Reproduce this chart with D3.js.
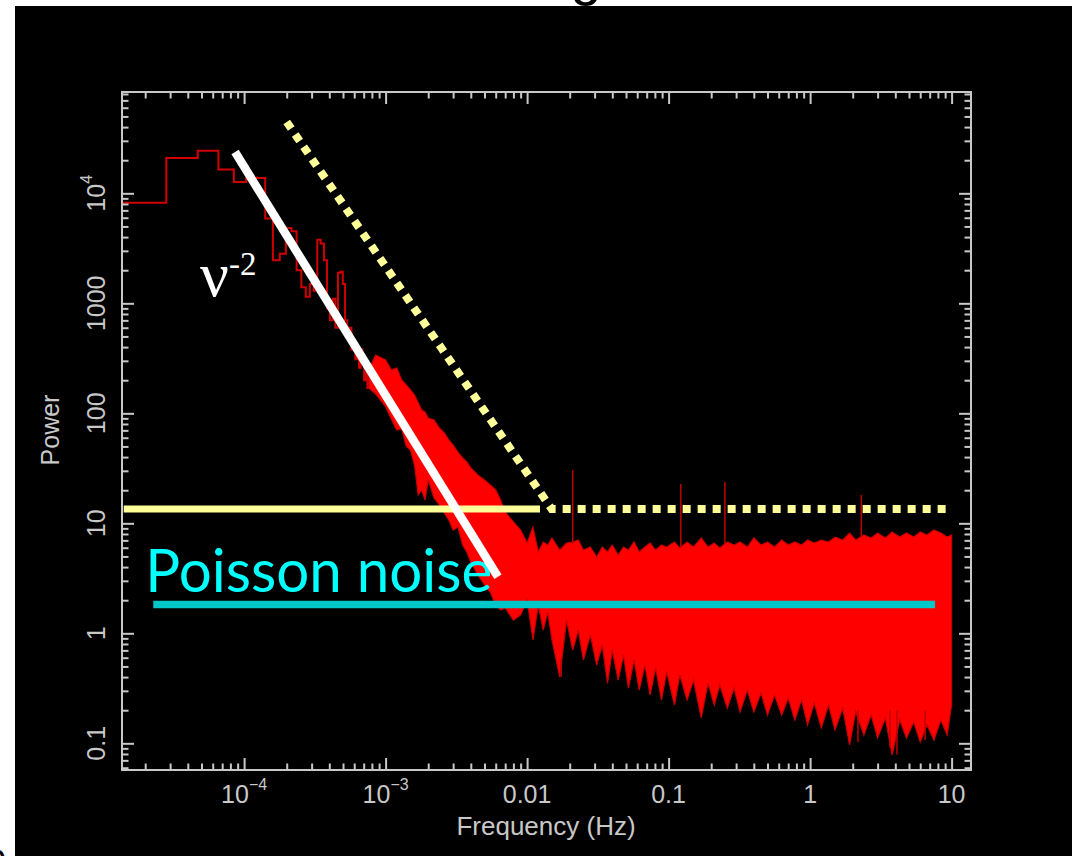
<!DOCTYPE html>
<html>
<head>
<meta charset="utf-8">
<script src="https://cdnjs.cloudflare.com/ajax/libs/d3/7.8.5/d3.min.js"></script>
<style>
	html, body { margin: 0; padding: 0; background: #fff; }
	svg { display: block; }
</style>
</head>
<body>
<div id="chart"></div>
<script>
// power spectrum values
const binWidth = 1.88e-5; // Hz, resolution of the low-frequency histogram
const lowFreqPower = [8200, 21000, 24400, 16500, 12700, 13900, 13800, 5900, 2460, 2830,
	4840, 4510, 2000, 1400, 1150, 1500, 1300, 3790, 3490, 2460,
	900, 700, 1100, 600, 1900, 1940, 1500, 700, 500, 600,
	380, 420, 310, 350, 260, 380, 300, 200, 240, 170];

// dense part of the spectrum: upper / lower envelope of the noise
const bandFreq = [7.6e-4, 8.5e-4, 1.0e-3, 1.1e-3, 1.2e-3, 1.3e-3, 1.4e-3, 1.5e-3, 1.6e-3, 1.7e-3,
	1.8e-3, 1.9e-3, 2.0e-3, 2.2e-3, 2.4e-3, 2.6e-3, 2.8e-3, 3.0e-3, 3.25e-3, 3.5e-3,
	3.75e-3, 4.0e-3, 4.5e-3, 5.0e-3, 5.5e-3, 6.0e-3, 6.5e-3, 7.0e-3, 8.0e-3, 9.0e-3,
	0.010, 0.011, 0.012, 0.013, 0.014, 0.015, 0.017, 0.019, 0.021, 0.023,
	0.025, 0.028, 0.031, 0.034, 0.037, 0.040, 0.044, 0.048, 0.052, 0.057,
	0.062, 0.068, 0.074, 0.081, 0.089, 0.097, 0.11, 0.12, 0.135, 0.15,
	0.17, 0.19, 0.21, 0.23, 0.26, 0.29, 0.32, 0.36, 0.40, 0.45,
	0.50, 0.56, 0.63, 0.70, 0.78, 0.87, 0.96, 1.07, 1.2, 1.35,
	1.5, 1.7, 1.9, 2.1, 2.4, 2.7, 3.0, 3.4, 3.8, 4.3,
	4.8, 5.4, 6.0, 6.7, 7.5, 8.4, 9.3, 10.0];
const bandHigh = [248, 339, 305, 248, 258, 201, 181, 163, 147, 125,
	107, 103, 90.6, 86.9, 73.5, 66.5, 57.2, 51.5, 44.1, 39.3,
	36.1, 31.9, 27.4, 24.8, 22.3, 20.1, 16.3, 12.7, 10.3, 8.69,
	6.62, 9.25, 5.49, 6.76, 6.35, 7.35, 5.72, 6.62, 6.76, 7.05,
	5.72, 6.09, 4.94, 6.09, 5.49, 6.35, 5.15, 6.09, 5.72, 6.76,
	5.49, 6.09, 6.62, 5.72, 6.35, 6.09, 6.76, 5.96, 6.76, 6.09,
	7.35, 6.09, 6.62, 5.96, 6.76, 6.35, 6.76, 6.09, 7.35, 6.35,
	6.76, 6.09, 7.05, 6.35, 6.76, 6.35, 7.05, 6.62, 7.05, 6.76,
	7.50, 7.05, 8.16, 7.05, 7.83, 7.35, 8.16, 7.35, 8.34, 7.50,
	8.16, 7.50, 8.34, 7.83, 8.69, 8.16, 7.50, 7.83];
const bandLow = [170, 150, 115, 88, 70.5, 72, 50, 46.4, 33.9, 18.1,
	20.1, 16.3, 24.8, 17.0, 14.7, 12.4, 10.7, 8.69, 9.25, 6.35,
	5.49, 4.42, 3.39, 2.75, 2.36, 1.81, 1.63, 1.70, 1.32, 1.47,
	2.01, 0.869, 1.81, 1.07, 1.56, 0.869, 0.401, 1.32, 0.705, 1.07,
	0.572, 0.966, 0.515, 0.783, 0.353, 0.705, 0.376, 0.635, 0.318, 0.572,
	0.305, 0.515, 0.275, 0.484, 0.248, 0.445, 0.223, 0.418, 0.248, 0.376,
	0.170, 0.353, 0.223, 0.339, 0.209, 0.318, 0.193, 0.305, 0.193, 0.286,
	0.181, 0.275, 0.181, 0.258, 0.163, 0.248, 0.147, 0.233, 0.138, 0.223,
	0.132, 0.209, 0.0966, 0.193, 0.119, 0.181, 0.112, 0.170, 0.0783, 0.163,
	0.112, 0.156, 0.103, 0.147, 0.107, 0.163, 0.119, 0.223];

// single spikes sticking out of the noise band
const spikeFreq = [0.021, 0.122, 0.25, 2.3, 0.0174, 2.18, 3.67, 4.11, 6.5];
const spikeFrom = [6.5, 6.0, 6.5, 7.5, 0.6, 0.2, 0.2, 0.2, 0.2];
const spikeTo = [30.5, 22.8, 23.7, 18.1, 0.40, 0.103, 0.091, 0.079, 0.107];

// overlays drawn on the spectrum
const nuLineFreq = [8.63e-5, 6.22e-3];
const nuLinePower = [23700, 3.27];
const dottedFreq = [2.0e-4, 0.0149, 9.9];
const dottedPower = [44500, 13.5, 13.5];
const solidYellowFreq = [1.41e-5, 0.01233];
const solidYellowPower = [13.5, 13.5];
const poissonFreq = [2.28e-5, 7.64];
const poissonPower = [1.83, 1.83];

// axis ticks and labels
const xTickValues = [1e-4, 1e-3, 1e-2, 1e-1, 1, 10];
const xTickLabels = [["10", "\u22124"], ["10", "\u22123"], ["0.01"], ["0.1"], ["1"], ["10"]];
const yTickValues = [0.1, 1, 10, 100, 1000, 1e4];
const yTickLabels = [["0.1"], ["1"], ["10"], ["100"], ["1000"], ["10", "4"]];

document.addEventListener("DOMContentLoaded", function () {
	builder();
});

function builder() {
	const w = 1072;
	const h = 856;
	const left = 122, right = 971, top = 92, bottom = 770;
	const axisColor = "#c8c8c8";
	const font = "'Liberation Sans', Arial, sans-serif";

	const svg = d3.select("#chart")
		.append("svg")
		.attr("width", w)
		.attr("height", h);

	svg.append("rect")
		.attr("x", 15).attr("y", 6)
		.attr("width", w - 15).attr("height", h - 6)
		.attr("fill", "#000");

	// bits of cut-off text from the page around the figure
	svg.append("text")
		.attr("x", 586).attr("y", -6)
		.attr("text-anchor", "middle")
		.attr("font-family", font).attr("font-size", 56)
		.attr("fill", "#000")
		.text("g");
	svg.append("text")
		.attr("x", -14).attr("y", 870)
		.attr("font-family", font).attr("font-size", 36)
		.attr("fill", "#000")
		.text("b");

	const x = d3.scaleLog().domain([1.371e-5, 13.71]).range([left, right]);
	const y = d3.scaleLog().domain([0.0572, 83400]).range([bottom, top]);

	svg.append("clipPath").attr("id", "plot-clip")
		.append("rect")
		.attr("x", left).attr("y", top)
		.attr("width", right - left).attr("height", bottom - top);

	const data = svg.append("g").attr("clip-path", "url(#plot-clip)");

	// low frequency part as a histogram
	const steps = lowFreqPower.map((p, i) => [(i + 0.5) * binWidth, p]);
	steps.push([(lowFreqPower.length + 0.5) * binWidth, lowFreqPower[lowFreqPower.length - 1]]);
	data.append("path")
		.attr("d", d3.line().x(d => x(d[0])).y(d => y(d[1])).curve(d3.curveStepAfter)(steps))
		.attr("fill", "none")
		.attr("stroke", "#d00000")
		.attr("stroke-width", 2);

	// noise band
	const band = bandFreq.map((f, i) => ({ f: f, hi: bandHigh[i], lo: bandLow[i] }));
	data.append("path")
		.attr("d", d3.area().x(d => x(d.f)).y0(d => y(d.lo)).y1(d => y(d.hi))(band))
		.attr("fill", "#ff0000")
		.attr("stroke", "#c80000")
		.attr("stroke-width", 1.2);

	data.selectAll("line.spike")
		.data(spikeFreq)
		.enter()
		.append("line")
		.attr("class", "spike")
		.attr("x1", d => x(d)).attr("x2", d => x(d))
		.attr("y1", (d, i) => y(spikeFrom[i]))
		.attr("y2", (d, i) => y(spikeTo[i]))
		.attr("stroke", "#c00000")
		.attr("stroke-width", 1.5);

	const line = d3.line().x(d => x(d[0])).y(d => y(d[1]));
	const pairs = (fs, ps) => fs.map((f, i) => [f, ps[i]]);

	svg.append("path")
		.attr("d", line(pairs(solidYellowFreq, solidYellowPower)))
		.attr("stroke", "#ffff99").attr("stroke-width", 7).attr("fill", "none");

	svg.append("path")
		.attr("d", line(pairs(dottedFreq, dottedPower)))
		.attr("stroke", "#ffff99").attr("stroke-width", 8).attr("fill", "none")
		.attr("stroke-dasharray", "8,7");

	svg.append("path")
		.attr("d", line(pairs(poissonFreq, poissonPower)))
		.attr("stroke", "#00c8c8").attr("stroke-width", 7.5).attr("fill", "none");

	svg.append("text")
		.attr("x", x(2.0e-5)).attr("y", y(2.39))
		.attr("font-family", "Lato, 'Open Sans', sans-serif")
		.attr("font-size", 60)
		.attr("textLength", 347)
		.attr("lengthAdjust", "spacingAndGlyphs")
		.attr("fill", "#00ffff")
		.text("Poisson noise");

	svg.append("path")
		.attr("d", line(pairs(nuLineFreq, nuLinePower)))
		.attr("stroke", "#fff").attr("stroke-width", 8.5).attr("fill", "none");

	const nu = svg.append("text")
		.attr("x", x(4.88e-5)).attr("y", y(1160))
		.attr("font-family", "'Liberation Serif', 'Times New Roman', serif")
		.attr("fill", "#fff");
	nu.append("tspan").attr("font-size", 64).text("\u03bd");
	nu.append("tspan").attr("font-size", 33).attr("dy", -21).text("-2");

	// ticks on all four sides, pointing inwards
	const isMajor = v => Math.abs(Math.log10(v) - Math.round(Math.log10(v))) < 1e-6;
	const xMinor = x.ticks().filter(v => !isMajor(v));
	const yMinor = y.ticks().filter(v => !isMajor(v));

	const axes = [
		[d3.axisBottom(x), `translate(0,${bottom})`, xMinor, xTickValues],
		[d3.axisTop(x), `translate(0,${top})`, xMinor, xTickValues],
		[d3.axisLeft(y), `translate(${left},0)`, yMinor, yTickValues],
		[d3.axisRight(y), `translate(${right},0)`, yMinor, yTickValues]
	];
	axes.forEach(a => {
		[[a[2], -6.5], [a[3], -12]].forEach(t => {
			const g = svg.append("g")
				.attr("transform", a[1])
				.attr("color", axisColor)
				.call(a[0].tickValues(t[0]).tickSize(t[1]).tickSizeOuter(0).tickFormat(""));
			g.select(".domain").remove();
			g.selectAll("line").attr("stroke-width", 2);
		});
	});

	svg.append("rect")
		.attr("x", left).attr("y", top)
		.attr("width", right - left).attr("height", bottom - top)
		.attr("fill", "none")
		.attr("stroke", axisColor)
		.attr("stroke-width", 2);

	function addLabel(sel, parts) {
		sel.append("tspan").text(parts[0]);
		if (parts[1]) {
			sel.append("tspan").attr("dy", -13).attr("font-size", 16).text(parts[1]);
		}
	}

	xTickValues.forEach((v, i) => {
		const t = svg.append("text")
			.attr("x", x(v)).attr("y", 803)
			.attr("text-anchor", "middle")
			.attr("font-family", font).attr("font-size", 25)
			.attr("fill", axisColor);
		addLabel(t, xTickLabels[i]);
	});

	yTickValues.forEach((v, i) => {
		const t = svg.append("text")
			.attr("transform", `translate(105,${y(v)}) rotate(-90)`)
			.attr("text-anchor", "middle")
			.attr("font-family", font).attr("font-size", 25)
			.attr("fill", axisColor);
		addLabel(t, yTickLabels[i]);
	});

	svg.append("text")
		.attr("x", 546).attr("y", 835)
		.attr("text-anchor", "middle")
		.attr("font-family", font).attr("font-size", 26)
		.attr("fill", axisColor)
		.text("Frequency (Hz)");

	svg.append("text")
		.attr("transform", "translate(59,430) rotate(-90)")
		.attr("text-anchor", "middle")
		.attr("font-family", font).attr("font-size", 25)
		.attr("fill", axisColor)
		.text("Power");
}
</script>
</body>
</html>
